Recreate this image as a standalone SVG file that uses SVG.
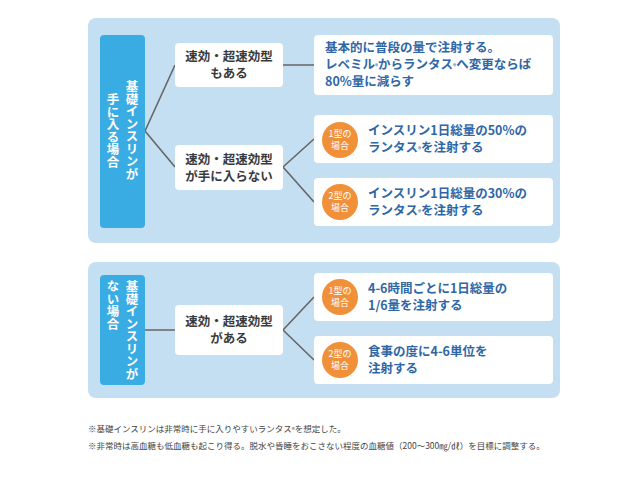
<svg xmlns="http://www.w3.org/2000/svg" width="640" height="480" viewBox="0 0 640 480">
<style>
.panel{fill:#c4def2}
.lab{fill:#3aace4}
.box{fill:#fff}
.vt{font-family:"Noto Sans CJK JP",sans-serif;font-size:12.5px;font-weight:bold;fill:#fff;writing-mode:vertical-rl}
.mt{font-family:"Noto Sans CJK JP",sans-serif;font-size:12.5px;font-weight:bold;fill:#3a3a3a;text-anchor:middle}
.rt{font-family:"Noto Sans CJK JP",sans-serif;font-size:12.5px;font-weight:bold;fill:#2f67a6}
.ct{font-family:"Noto Sans CJK JP",sans-serif;font-size:9px;fill:#fff;text-anchor:middle}
.circ{fill:#f0913a}
.sm{font-size:6px}
.fn{font-family:"Noto Sans CJK JP",sans-serif;font-size:8.5px;fill:#444}
.ln{stroke:#666;stroke-width:1.6;fill:none}
</style>
<rect class="panel" x="88" y="18" width="472" height="225" rx="8"/>
<rect class="panel" x="88" y="262" width="472" height="136" rx="8"/>
<g id="connectors">
<path class="ln" d="M145 131 L175 65 M145 131 L175 167 M283 65 L314 65 M283 167 L314 139 M283 167 L314 202"/>
<path class="ln" d="M145 330 L175 330 M283 330 L314 297 M283 330 L314 360"/>
</g>
<g id="label1"><rect class="lab" x="100" y="35" width="45" height="193" rx="4"/>
<text class="vt" x="132" y="80">基礎インスリンが</text><text class="vt" x="113" y="93">手に入る場合</text></g>
<g id="mid1"><rect class="box" x="175" y="43" width="108" height="44" rx="4"/>
<text class="mt" x="229" y="61">速効・超速効型</text><text class="mt" x="229" y="78">もある</text></g>
<g id="mid2"><rect class="box" x="175" y="145" width="108" height="45" rx="4"/>
<text class="mt" x="229" y="164">速効・超速効型</text><text class="mt" x="229" y="181">が手に入らない</text></g>
<g id="res1"><rect class="box" x="314" y="35" width="239" height="60" rx="4"/>
<text class="rt" x="325" y="52">基本的に普段の量で注射する。</text>
<text class="rt" x="325" y="69">レベミル<tspan class="sm">®</tspan>からランタス<tspan class="sm">®</tspan>へ変更ならば</text>
<text class="rt" x="325" y="86">80%量に減らす</text></g>
<g id="res2"><rect class="box" x="314" y="115" width="239" height="48" rx="4"/>
<circle class="circ" cx="340" cy="140" r="18"/><text class="ct" x="340" y="137">1型の</text><text class="ct" x="340" y="149">場合</text>
<text class="rt" x="368" y="135">インスリン1日総量の50%の</text>
<text class="rt" x="368" y="152">ランタス<tspan class="sm">®</tspan>を注射する</text></g>
<g id="res3"><rect class="box" x="314" y="178" width="239" height="48" rx="4"/>
<circle class="circ" cx="340" cy="202" r="18"/><text class="ct" x="340" y="199">2型の</text><text class="ct" x="340" y="211">場合</text>
<text class="rt" x="368" y="198">インスリン1日総量の30%の</text>
<text class="rt" x="368" y="215">ランタス<tspan class="sm">®</tspan>を注射する</text></g>
<g id="label2"><rect class="lab" x="100" y="275" width="45" height="110" rx="4"/>
<text class="vt" x="132" y="280">基礎インスリンが</text><text class="vt" x="113" y="280">ない場合</text></g>
<g id="mid3"><rect class="box" x="175" y="305" width="108" height="50" rx="4"/>
<text class="mt" x="229" y="326">速効・超速効型</text><text class="mt" x="229" y="343">がある</text></g>
<g id="res4"><rect class="box" x="314" y="273" width="239" height="48" rx="4"/>
<circle class="circ" cx="340" cy="297" r="18"/><text class="ct" x="340" y="294">1型の</text><text class="ct" x="340" y="306">場合</text>
<text class="rt" x="368" y="293">4-6時間ごとに1日総量の</text>
<text class="rt" x="368" y="310">1/6量を注射する</text></g>
<g id="res5"><rect class="box" x="314" y="336" width="239" height="48" rx="4"/>
<circle class="circ" cx="340" cy="360" r="18"/><text class="ct" x="340" y="357">2型の</text><text class="ct" x="340" y="369">場合</text>
<text class="rt" x="368" y="356">食事の度に4-6単位を</text>
<text class="rt" x="368" y="373">注射する</text></g>
<text class="fn" x="88" y="432">※基礎インスリンは非常時に手に入りやすいランタス<tspan class="sm">®</tspan>を想定した。</text>
<text class="fn" x="88" y="449">※非常時は高血糖も低血糖も起こり得る。脱水や昏睡をおこさない程度の血糖値（200～300㎎/㎗）を目標に調整する。</text>
</svg>
